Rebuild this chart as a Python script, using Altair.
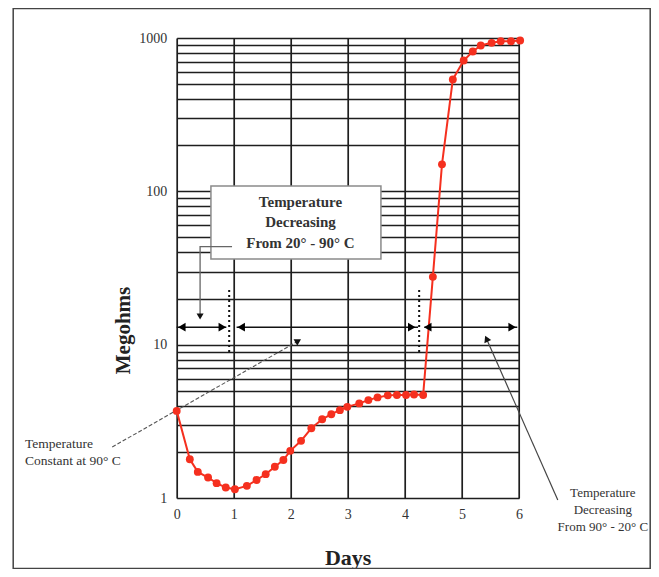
import altair as alt
import pandas as pd

# ---- data ----
days = [0, 0.23, 0.37, 0.55, 0.70, 0.86, 1.02, 1.23, 1.40, 1.56, 1.72, 1.87, 1.99,
        2.18, 2.36, 2.55, 2.71, 2.86, 2.99, 3.20, 3.36, 3.52, 3.70, 3.86, 4.02, 4.16,
        4.32, 4.49, 4.65, 4.84, 5.03, 5.19, 5.33, 5.52, 5.68, 5.86, 6.02]
megohms = [3.7, 1.79, 1.48, 1.36, 1.25, 1.17, 1.14, 1.20, 1.31, 1.43, 1.60, 1.77, 2.03,
           2.36, 2.85, 3.26, 3.52, 3.74, 3.93, 4.14, 4.35, 4.53, 4.67, 4.70, 4.70, 4.73,
           4.70, 27.7, 150, 537, 713, 817, 893, 930, 953, 953, 963]

x_ticks = [0, 1, 2, 3, 4, 5, 6]
y_grid = [m * d for d in (1, 10, 100) for m in range(1, 10)] + [1000]
y_labels = [1, 10, 100, 1000]

# annotation positions (data coordinates: days, megohms); text y = first line
box_x = [0.60, 3.58]
box_y = [108.3, 36.2]
box_text = ["Temperature", "Decreasing", "From 20\u00b0 - 90\u00b0 C"]
box_text_pos = [2.17, 85.6]
left_text = ["Temperature", "Constant at 90\u00b0 C"]
left_text_pos = [-2.66, 2.25]
right_text = ["Temperature", "Decreasing", "From 90\u00b0 - 20\u00b0 C"]
right_text_pos = [7.47, 1.083]

arrow_y = 13.0
seg_x1 = [0.0, 1.05, 4.34]
seg_x2 = [0.87, 4.23, 5.97]
head_left_x = [0.09, 1.13, 4.40]
head_right_x = [0.80, 4.12, 5.88]

dotted_x = [0.92, 4.25]
dotted_y = [22.7, 8.96]

leader_x = [0.97, 0.41, 0.41]
leader_y = [43.55, 43.55, 15.6]
leader_head = [0.41, 15.27]

diag_left_x = [-1.13, 2.13]
diag_left_y = [2.15, 10.57]
diag_right_x = [6.68, 5.43]
diag_right_y = [0.97, 10.94]

RED = "#f5301f"
FONT = "Liberation Serif"

xs = alt.Scale(domain=[0, 6], nice=False, zero=False)
ys = alt.Scale(type="log", domain=[1, 1000], nice=False)

df = pd.DataFrame({"day": days, "meg": megohms})

xaxis = alt.Axis(values=x_ticks, grid=True, domain=False, ticks=False, labelFlush=False,
                 gridColor="#1e1e1e", gridWidth=1.7, gridOpacity=1,
                 labelFont=FONT, labelFontSize=14, labelColor="#333", labelPadding=9,
                 title="Days", titleFont=FONT, titleFontSize=22, titleFontWeight="bold",
                 titleColor="#222", titleX=171, titleY=59, titleBaseline="middle")
yaxis = alt.Axis(values=y_grid, format="d", grid=True, domain=False, ticks=False,
                 labelFlush=False,
                 labelExpr="indexof([1,10,100,1000], datum.value) >= 0 ? datum.label : ''",
                 gridColor="#1e1e1e", gridWidth=1.7, gridOpacity=1,
                 labelFont=FONT, labelFontSize=14, labelColor="#333", labelPadding=10,
                 labelBaseline="middle",
                 title="Megohms", titleFont=FONT, titleFontSize=21, titleFontWeight="bold",
                 titleColor="#222", titleX=-53, titleY=292, titleBaseline="middle",
                 titleAngle=270)


def X(field):
    return alt.X(field, scale=xs, axis=xaxis)


def Y(field):
    return alt.Y(field, scale=ys, axis=yaxis)


main = alt.Chart(df).mark_line(color=RED, strokeWidth=2).encode(x=X("day:Q"), y=Y("meg:Q"))
pts = alt.Chart(df).mark_point(filled=True, size=62, color=RED, opacity=1).encode(
    x=X("day:Q"), y=Y("meg:Q"))

frame = alt.Chart(pd.DataFrame({"a": [0]})).mark_rect(
    fill=None, stroke="#444", strokeWidth=1.5).encode(
    x=alt.value(-163.5), x2=alt.value(473.5), y=alt.value(-29.5), y2=alt.value(530.5))

box = alt.Chart(pd.DataFrame({"x": [box_x[0]], "x2": [box_x[1]],
                              "y": [box_y[0]], "y2": [box_y[1]]})).mark_rect(
    fill="white", stroke="#8a8a8a", strokeWidth=1.5).encode(
    x=X("x:Q"), x2="x2:Q", y=Y("y:Q"), y2="y2:Q")


def text_layer(lines, pos, size, weight, align, lh):
    d = pd.DataFrame({"x": [pos[0]], "y": [pos[1]], "t": [lines]})
    return alt.Chart(d).mark_text(font=FONT, fontSize=size, fontWeight=weight,
                                  align=align, baseline="middle", lineHeight=lh,
                                  color="#333").encode(
        x=X("x:Q"), y=Y("y:Q"), text="t")


box_txt = text_layer(box_text, box_text_pos, 15, "bold", "center", 20.5)
left_txt = text_layer(left_text, left_text_pos, 13.5, "normal", "left", 17.5)
right_txt = text_layer(right_text, right_text_pos, 13, "normal", "center", 17.3)

segs = alt.Chart(pd.DataFrame({"x": seg_x1, "x2": seg_x2, "y": [arrow_y] * 3})).mark_rule(
    color="#111", strokeWidth=1.6).encode(x=X("x:Q"), x2="x2:Q", y=Y("y:Q"))

heads_l = alt.Chart(pd.DataFrame({"x": head_left_x, "y": [arrow_y] * 3})).mark_point(
    shape="triangle-left", filled=True, size=75, color="#000", opacity=1).encode(
    x=X("x:Q"), y=Y("y:Q"))
heads_r = alt.Chart(pd.DataFrame({"x": head_right_x, "y": [arrow_y] * 3})).mark_point(
    shape="triangle-right", filled=True, size=75, color="#000", opacity=1).encode(
    x=X("x:Q"), y=Y("y:Q"))

dotted = alt.Chart(pd.DataFrame({"x": dotted_x, "y": [dotted_y[0]] * 2,
                                 "y2": [dotted_y[1]] * 2})).mark_rule(
    color="#111", strokeWidth=2, strokeDash=[2, 3]).encode(
    x=X("x:Q"), y=Y("y:Q"), y2="y2:Q")

leader = alt.Chart(pd.DataFrame({"x": leader_x, "y": leader_y, "o": [0, 1, 2]})).mark_line(
    color="#666", strokeWidth=1.3).encode(x=X("x:Q"), y=Y("y:Q"), order="o:Q")
leader_h = alt.Chart(pd.DataFrame({"x": [leader_head[0]], "y": [leader_head[1]]})).mark_point(
    shape="triangle-down", filled=True, size=50, color="#111", opacity=1).encode(
    x=X("x:Q"), y=Y("y:Q"))

dl = alt.Chart(pd.DataFrame({"x": diag_left_x, "y": diag_left_y, "o": [0, 1]})).mark_line(
    color="#555", strokeWidth=1.1, strokeDash=[4, 2]).encode(
    x=X("x:Q"), y=Y("y:Q"), order="o:Q")
dl_h = alt.Chart(pd.DataFrame({"x": [diag_left_x[1]], "y": [diag_left_y[1]]})).mark_point(
    shape="triangle-up", angle=60, filled=True, size=55, color="#111", opacity=1).encode(
    x=X("x:Q"), y=Y("y:Q"))

dr = alt.Chart(pd.DataFrame({"x": diag_right_x, "y": diag_right_y, "o": [0, 1]})).mark_line(
    color="#444", strokeWidth=1.2).encode(x=X("x:Q"), y=Y("y:Q"), order="o:Q")
dr_h = alt.Chart(pd.DataFrame({"x": [diag_right_x[1]], "y": [diag_right_y[1]]})).mark_point(
    shape="triangle-up", angle=336, filled=True, size=55, color="#111", opacity=1).encode(
    x=X("x:Q"), y=Y("y:Q"))

chart = alt.layer(
    main, frame, box, box_txt, leader, leader_h, segs, heads_l, heads_r, dotted,
    dl, dl_h, dr, dr_h, left_txt, right_txt, pts
).properties(
    width=342.3, height=460,
    padding={"left": 168.7, "top": 30, "right": 132, "bottom": 71},
    autosize=alt.AutoSizeParams(type="none"),
).configure_view(stroke=None).configure(background="white")

chart.save("out.html", embed_options={"renderer": "svg", "actions": False})
